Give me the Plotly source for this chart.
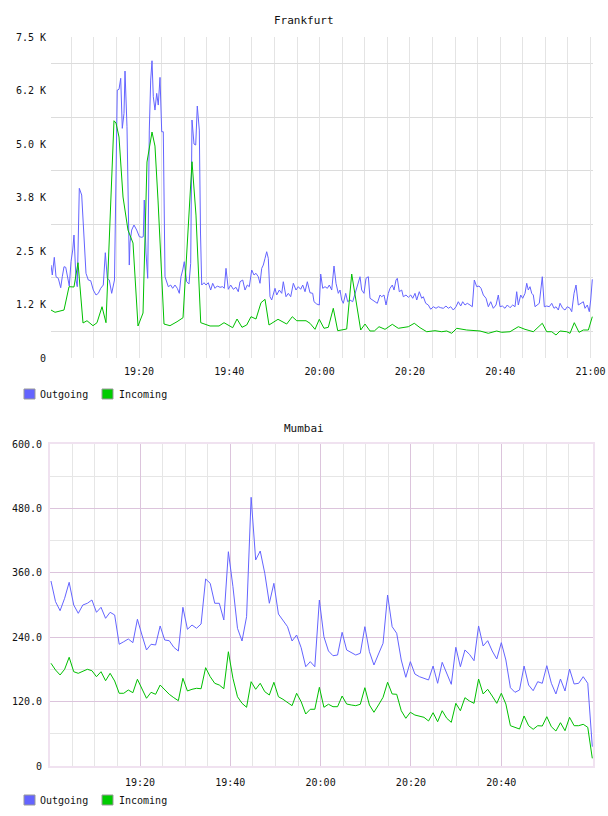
import pandas as pd
import plotly.graph_objects as go

# ---------------- data ----------------
BASE = pd.Timestamp("2024-01-01 19:00:00")

# Frankfurt, Outgoing: minutes after 19:00 and values
fra_out_min = [0.51,0.80,1.24,1.62,2.13,2.66,3.01,3.39,3.77,4.21,
4.56,4.94,5.32,5.60,6.05,6.33,6.78,7.31,7.66,8.26,
8.77,9.30,9.88,10.48,10.99,11.52,12.09,12.54,12.98,13.42,
13.95,14.31,14.57,15.19,15.57,15.95,16.30,16.68,16.90,17.34,
17.85,18.00,18.38,18.89,19.49,20.07,20.60,20.95,21.17,21.55,
21.93,22.28,22.59,22.88,23.17,23.54,23.92,24.27,24.65,25.03,
25.38,25.76,26.13,26.49,27.02,27.46,27.97,28.48,28.93,29.30,
29.68,30.03,30.56,31.07,31.45,31.74,32.18,32.56,32.91,33.36,
33.62,33.89,34.40,34.84,35.35,35.88,36.32,36.83,37.34,37.94,
38.54,38.89,39.27,39.78,40.31,40.89,41.48,41.99,42.37,42.97,
43.48,43.99,44.43,44.96,45.47,45.91,46.42,46.80,47.18,47.53,
47.91,48.28,48.64,49.01,49.39,49.75,50.12,50.50,51.07,51.61,
51.96,52.56,53.07,53.60,54.18,54.77,55.28,55.81,56.26,56.77,
57.28,57.87,58.47,58.76,59.36,59.93,60.24,60.69,61.20,61.71,
62.15,62.68,63.19,63.63,64.14,64.52,64.89,65.25,65.78,66.22,
66.73,67.33,67.84,68.35,68.95,69.32,69.83,70.28,70.79,71.16,
71.76,72.27,72.78,73.38,73.75,74.26,74.71,75.22,75.59,76.10,
76.48,76.92,77.21,77.65,78.18,78.54,79.14,79.65,80.18,80.62,
81.13,81.51,82.08,82.61,82.97,83.50,84.08,84.61,85.18,85.78,
86.29,86.82,87.40,87.99,88.50,89.04,89.61,90.21,90.72,91.25,
91.69,92.20,92.71,93.31,93.82,94.26,94.80,95.31,95.75,96.26,
96.86,97.37,97.90,98.47,99.07,99.58,99.96,100.47,101.06,101.57,
102.17,102.77,103.28,103.65,104.01,104.54,104.98,105.49,105.87,106.22,
106.60,106.98,107.33,107.71,108.22,108.66,109.32,109.77,110.30,110.87,
111.41,111.92,112.36,112.87,113.25,113.84,114.35,114.86,115.46,115.84,
116.35,116.79,117.30,117.83,118.41,118.78,119.29,119.73,120.04,120.40]
fra_out = [2172,1939,2352,1899,1862,1642,1899,2133,2119,1822,
1682,2250,2523,2873,1822,1666,3964,3808,3224,1979,
1822,1806,1588,1472,1511,1628,1705,2460,1862,1822,
1511,1666,1822,6260,6277,6534,5366,5716,6704,5403,
2172,2686,2990,3107,2990,2834,2820,2834,3691,2453,
1862,5326,6494,6945,6104,5793,6183,5910,6557,5286,
5286,1899,1745,1666,1705,1628,1705,1628,1511,1899,
2056,2250,1782,1729,2212,5560,4999,4976,5887,5326,
2920,1705,1759,1705,1759,1588,1745,1628,1682,1652,
1666,1628,2095,1605,1705,1605,1652,1549,1782,1822,
1588,1705,1666,2056,1939,1979,1899,1745,2095,2172,
2329,2483,2329,1432,1355,1472,1628,1472,1588,1511,
1782,1432,1511,1432,1745,1588,1666,1605,1705,1549,
1782,1525,1511,1315,1261,1238,1962,1628,1666,1628,
1705,1588,2149,1745,1511,1588,1355,1278,1511,1315,
1355,1315,1511,1705,1899,1588,1511,1862,1899,1395,
1355,1315,1278,1472,1432,1472,1238,1511,1628,1705,
1588,1822,1862,1549,1588,1432,1472,1418,1472,1395,
1511,1355,1549,1395,1432,1278,1238,1138,1198,1161,
1198,1175,1161,1215,1161,1198,1121,1198,1315,1215,
1315,1238,1278,1238,1198,1822,1666,1682,1628,1472,
1395,1198,1315,1161,1238,1472,1198,1215,1161,1238,
1175,1238,1198,1549,1238,1472,1395,1511,1745,1588,
1666,1511,1472,1198,1238,1278,1899,1198,1215,1198,
1278,1161,1198,1121,1278,1161,1121,1198,1161,1082,
1511,1705,1238,1278,1315,1161,1238,1082,1355,1838]

# Frankfurt, Incoming
fra_in_min = [0.51,1.40,3.39,4.50,5.60,6.49,7.60,8.48,9.81,10.70,
11.81,12.69,14.46,14.91,15.57,16.46,17.56,18.67,19.78,20.89,
21.77,22.88,23.54,24.21,25.54,26.86,28.42,29.75,31.74,32.62,
33.67,35.73,37.72,38.83,40.75,41.71,42.81,43.85,44.81,45.91,
47.02,47.91,48.79,50.79,52.71,53.95,54.93,56.99,57.87,58.98,
59.93,60.97,61.93,63.03,64.01,66.00,67.11,68.06,69.10,70.06,
71.16,72.12,73.16,74.49,76.10,77.43,79.65,80.97,82.24,83.72,
85.56,87.04,88.15,89.26,90.37,92.58,95.53,97.37,99.22,100.33,
102.17,104.01,105.49,107.33,109.32,110.30,111.41,112.36,113.25,114.73,
115.46,116.41,117.45,118.41,119.52,120.40]
fra_in = [1121,1068,1121,1666,1659,2226,818,871,755,825,
1198,825,5543,5490,5163,3761,2990,2686,748,1051,
4579,5279,4952,3691,794,755,848,941,4586,3340,
825,748,748,825,708,911,717,771,965,911,
1292,1371,771,904,794,965,871,871,811,670,
904,694,717,1161,638,677,1962,1355,654,794,
631,631,731,670,787,694,731,811,708,614,
638,614,631,577,694,654,631,577,631,600,
614,731,670,614,811,614,614,537,631,614,
577,825,600,654,654,965]

# Mumbai: one sample per ~minute, 120 samples
mum_start = "2024-01-01 19:00:17"
mum_step = "60450ms"
mum_out = [344.7,306.2,289.4,312.5,342.3,300.0,284.5,300.0,303.2,309.3,
286.4,295.7,275.2,286.4,281.4,226.8,231.6,236.7,229.8,273.4,
244.1,216.2,226.8,225.5,260.9,234.8,233.5,221.2,214.3,295.7,
254.7,262.7,256.6,264.6,348.5,340.4,303.2,303.2,272.1,399.3,
334.1,256.6,232.9,278.2,500.7,383.9,400.6,359.1,303.2,340.4,
283.2,272.1,259.6,232.9,244.1,220.4,185.0,194.4,185.0,309.3,
240.9,214.3,205.5,206.8,249.1,216.2,211.9,206.8,210.0,259.6,
213.0,188.2,208.7,228.6,318.6,259.6,247.3,197.5,165.3,194.4,
171.4,166.4,163.4,160.3,186.3,154.1,193.2,172.7,152.2,221.2,
185.0,216.2,208.1,196.2,260.9,223.6,233.5,214.3,199.4,229.8,
197.5,145.9,137.3,141.6,186.3,150.9,140.3,157.1,154.1,186.9,
154.1,134.2,162.1,139.8,180.7,152.8,154.1,166.4,154.1,36.0]
mum_in = [191.4,178.9,169.6,180.2,202.6,175.7,172.7,177.0,180.2,177.6,
166.4,175.7,158.9,172.7,158.4,135.5,135.5,141.6,136.6,161.6,
144.8,126.2,137.3,133.6,150.9,141.6,133.6,127.3,121.7,163.4,
139.8,142.9,144.8,144.0,183.2,166.4,154.1,150.9,144.0,212.9,
163.4,129.1,116.8,109.4,157.1,142.9,154.1,138.5,132.3,156.0,
129.1,124.3,118.0,112.4,135.5,119.8,96.9,105.7,105.7,146.6,
109.4,115.0,110.5,110.5,130.4,115.5,113.7,112.4,115.0,145.9,
113.7,100.1,113.7,128.0,156.0,134.2,133.6,103.0,88.9,100.1,
95.0,93.2,90.7,83.9,99.3,82.5,103.0,88.9,81.4,116.8,
103.0,127.3,121.1,116.8,162.1,134.2,142.9,130.4,116.8,135.5,
115.5,75.1,71.4,68.9,93.2,75.1,68.4,75.1,74.5,91.9,
73.2,65.2,80.7,65.8,90.7,75.1,75.1,77.7,72.1,14.3]

fra_yticks = [0, 1250, 2500, 3750, 5000, 6250, 7500]
fra_ylabels = ["0", "1.2 K", "2.5 K", "3.8 K", "5.0 K", "6.2 K", "7.5 K"]
mum_yticks = [0, 120, 240, 360, 480, 600]
mum_ylabels = ["0", "120.0", "240.0", "360.0", "480.0", "600.0"]
fra_xlabels = ["19:20", "19:40", "20:00", "20:20", "20:40", "21:00"]
mum_xlabels = ["19:20", "19:40", "20:00", "20:20", "20:40"]
series_names = ["Outgoing", "Incoming"]

# ---------------- styling ----------------
W, H = 608, 816
BLUE = "#6464ff"
GREEN = "#00c000"
FONT = "DejaVu Sans Mono"
TXT = "#111111"


def at(mins):
    return [BASE + pd.Timedelta(minutes=m) for m in mins]


def hm(s):
    return pd.Timestamp("2024-01-01 " + s + ":00")


def px(x):
    return x / W


def py(y):
    return 1 - y / H


mum_times = list(pd.date_range(mum_start, periods=len(mum_out), freq=mum_step))

fig = go.Figure()
fig.add_trace(go.Scatter(x=at(fra_out_min), y=fra_out, mode="lines", name=series_names[0],
                         line=dict(color=BLUE, width=1), xaxis="x", yaxis="y", showlegend=False))
fig.add_trace(go.Scatter(x=at(fra_in_min), y=fra_in, mode="lines", name=series_names[1],
                         line=dict(color=GREEN, width=1), xaxis="x", yaxis="y", showlegend=False))
fig.add_trace(go.Scatter(x=mum_times, y=mum_out, mode="lines", name=series_names[0],
                         line=dict(color=BLUE, width=1), xaxis="x2", yaxis="y2", showlegend=False))
fig.add_trace(go.Scatter(x=mum_times, y=mum_in, mode="lines", name=series_names[1],
                         line=dict(color=GREEN, width=1), xaxis="x2", yaxis="y2", showlegend=False))

five_min = [BASE + pd.Timedelta(minutes=5 * k) for k in range(0, 25)]
fra_minor = [t for t in five_min if t.minute % 20 != 0]
mum_minor = [t for t in five_min if t.minute % 20 != 0 and t < hm("21:00")]

axis_font = dict(family=FONT, size=10, color=TXT)

fig.update_layout(
    width=W, height=H, autosize=False,
    margin=dict(l=0, r=0, t=0, b=0, pad=0, autoexpand=False),
    paper_bgcolor="white", plot_bgcolor="white",
    showlegend=False,
    xaxis=dict(
        domain=[px(51), px(593)], anchor="y", type="date", automargin=False,
        range=[BASE + pd.Timedelta(seconds=30.6), BASE + pd.Timedelta(minutes=120.55)],
        tickmode="array", tickvals=[hm(s) for s in fra_xlabels], ticktext=fra_xlabels,
        showgrid=True, gridcolor="#e4e4e4", gridwidth=1,
        minor=dict(tickmode="array", tickvals=fra_minor, showgrid=True, gridcolor="#e4e4e4", gridwidth=1),
        zeroline=False, showline=False, ticks="", tickfont=axis_font, ticklabelstandoff=6,
    ),
    yaxis=dict(
        domain=[py(358), py(37)], anchor="x", range=[0, 7500], automargin=False,
        tickmode="array", tickvals=fra_yticks, ticktext=fra_ylabels,
        showgrid=False,
        minor=dict(tickmode="array", tickvals=[v + 625 for v in fra_yticks[:-1]],
                   showgrid=True, gridcolor="#dcdcdc", gridwidth=1),
        zeroline=False, showline=False, ticks="", tickfont=axis_font, ticklabelstandoff=4,
    ),
    xaxis2=dict(
        domain=[px(50), px(593)], anchor="y2", type="date", automargin=False,
        range=[BASE + pd.Timedelta(seconds=4), BASE + pd.Timedelta(minutes=120.33)],
        tickmode="array", tickvals=[hm(s) for s in mum_xlabels], ticktext=mum_xlabels,
        showgrid=True, gridcolor="#dcc4dc", gridwidth=1,
        minor=dict(tickmode="array", tickvals=mum_minor, showgrid=True, gridcolor="#e6e6e6", gridwidth=1),
        zeroline=False, showline=True, mirror=True, linecolor="#f0e2f0", linewidth=2,
        ticks="", tickfont=axis_font, ticklabelstandoff=6,
    ),
    yaxis2=dict(
        domain=[py(766), py(444)], anchor="x2", range=[0, 600], automargin=False,
        tickmode="array", tickvals=mum_yticks, ticktext=mum_ylabels,
        showgrid=True, gridcolor="#dcc4dc", gridwidth=1,
        minor=dict(tickmode="array", tickvals=[v + 60 for v in mum_yticks[:-1]],
                   showgrid=True, gridcolor="#e6e6e6", gridwidth=1),
        zeroline=False, showline=True, mirror=True, linecolor="#f0e2f0", linewidth=2,
        ticks="", tickfont=axis_font, ticklabelstandoff=4,
    ),
)

annotations = [
    dict(text="Frankfurt", x=0.5, y=py(20), xref="paper", yref="paper",
         xanchor="center", yanchor="middle", showarrow=False,
         font=dict(family=FONT, size=11, color=TXT)),
    dict(text="Mumbai", x=0.5, y=py(428), xref="paper", yref="paper",
         xanchor="center", yanchor="middle", showarrow=False,
         font=dict(family=FONT, size=11, color=TXT)),
]
shapes = []
# hand-placed legends (square swatch + label) under each chart
for yc in (394, 800):
    for name, color, x0, xt in ((series_names[0], BLUE, 24, 38), (series_names[1], "#00cc00", 102, 117)):
        shapes.append(dict(type="rect", xref="paper", yref="paper",
                           x0=px(x0), x1=px(x0 + 11), y0=py(yc - 5), y1=py(yc + 5),
                           fillcolor=color, line=dict(color="#999999", width=1)))
        annotations.append(dict(text=name, x=px(xt), y=py(yc), xref="paper", yref="paper",
                                xanchor="left", yanchor="middle", showarrow=False,
                                font=dict(family=FONT, size=10, color=TXT)))
fig.update_layout(annotations=annotations, shapes=shapes)

fig.write_html("out.html")
